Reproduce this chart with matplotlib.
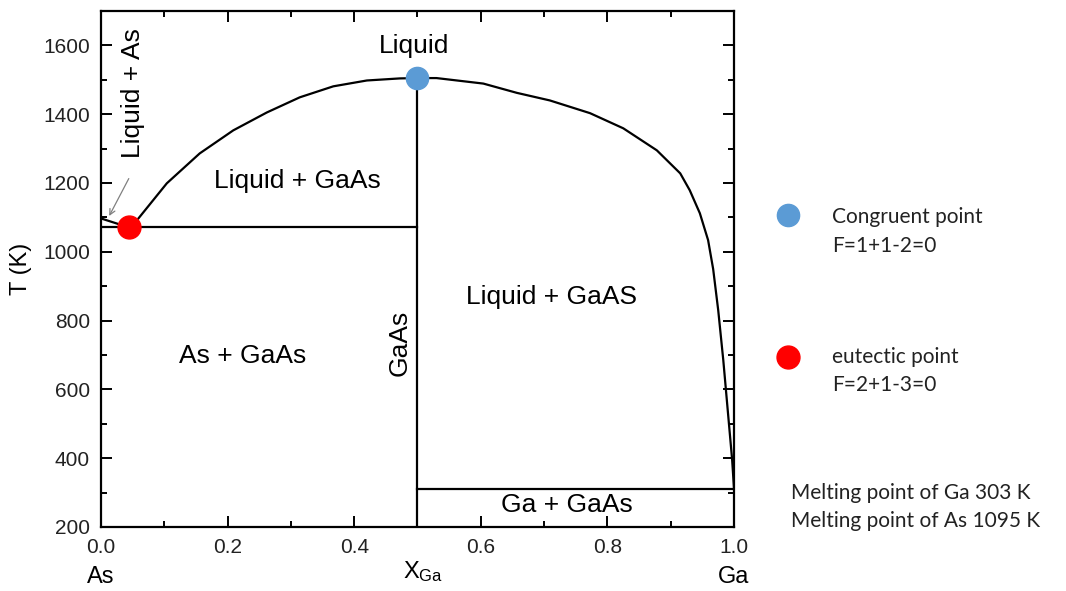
import matplotlib
matplotlib.use('Agg')
import matplotlib.pyplot as plt
from matplotlib.ticker import MultipleLocator

plt.rcParams['font.family'] = ['Liberation Sans', 'DejaVu Sans']
plt.rcParams['mathtext.fontset'] = 'custom'
plt.rcParams['mathtext.rm'] = 'Liberation Sans'
plt.rcParams['mathtext.it'] = 'Liberation Sans:italic'

# liquidus, As-rich side (eutectic -> congruent point)
liq_left_x = [0.044, 0.057, 0.104, 0.156, 0.209, 0.262, 0.314, 0.367, 0.42, 0.472, 0.50]
liq_left_t = [1071, 1092, 1199, 1286, 1353, 1405, 1449, 1481, 1498, 1504, 1505]
# liquidus, Ga-rich side (congruent point -> Ga melting)
liq_right_x = [0.50, 0.53, 0.604, 0.657, 0.709, 0.7725, 0.825, 0.878, 0.915, 0.930,
               0.946, 0.959, 0.967, 0.975, 0.983, 0.990, 0.997, 1.0]
liq_right_t = [1505, 1505, 1489, 1462, 1440, 1403, 1359, 1295, 1228, 1179,
               1112, 1034, 950, 830, 685, 540, 395, 310]
# As melting -> eutectic
as_side_x = [0.0, 0.044]
as_side_t = [1097, 1071]

eutectic = (0.044, 1071)
congruent = (0.5, 1505)
eutectic_line_x = [0.0, 0.5]
ga_line_x = [0.5, 1.0]
ga_line_t = 310
gaas_x = 0.5

fig = plt.figure(figsize=(10.66, 5.91), dpi=100)
ax = fig.add_axes([0.0947, 0.1083, 0.5939, 0.8731])

lw = 1.6
ax.plot(liq_left_x, liq_left_t, color='black', lw=lw)
ax.plot(liq_right_x, liq_right_t, color='black', lw=lw)
ax.plot(as_side_x, as_side_t, color='black', lw=lw)
ax.plot(eutectic_line_x, [eutectic[1]] * 2, color='black', lw=lw)
ax.plot(ga_line_x, [ga_line_t] * 2, color='black', lw=lw)
ax.plot([gaas_x, gaas_x], [200, congruent[1]], color='black', lw=lw)

ax.plot(*congruent, 'o', color='#5B9BD5', ms=16, zorder=5)
ax.plot(*eutectic, 'o', color='#FF0000', ms=16.5, zorder=5)

ax.set_xlim(0, 1.0)
ax.set_ylim(200, 1700)
ax.xaxis.set_major_locator(MultipleLocator(0.2))
ax.xaxis.set_minor_locator(MultipleLocator(0.1))
ax.yaxis.set_major_locator(MultipleLocator(200))
ax.yaxis.set_minor_locator(MultipleLocator(100))
ax.set_xticks([0.0, 0.2, 0.4, 0.6, 0.8, 1.0])
ax.set_xticklabels(['0.0', '0.2', '0.4', '0.6', '0.8', '1.0'])
ax.tick_params(which='both', direction='in', top=True, right=True, width=1.4)
ax.tick_params(which='major', length=8, labelsize=15, pad=8, labelcolor='#222222')
ax.tick_params(which='minor', length=4)
for sp in ax.spines.values():
    sp.set_linewidth(1.6)

ax.set_ylabel('T (K)', fontsize=17, labelpad=8)

fs = 19
ax.text(0.495, 1597, 'Liquid', fontsize=fs, ha='center', va='center')
ax.text(0.31, 1205, 'Liquid + GaAs', fontsize=fs, ha='center', va='center')
ax.text(0.224, 697, 'As + GaAs', fontsize=fs, ha='center', va='center')
ax.text(0.472, 734, 'GaAs', fontsize=fs, ha='center', va='center', rotation=90)
ax.text(0.711, 868, 'Liquid + GaAS', fontsize=fs, ha='center', va='center')
ax.text(0.736, 264, 'Ga + GaAs', fontsize=fs, ha='center', va='center')
ax.text(0.05, 1460, 'Liquid + As', fontsize=fs, ha='center', va='center', rotation=90)
ax.annotate('', xy=(0.011, 1097), xytext=(0.046, 1220),
            arrowprops=dict(arrowstyle='->', color='#808080', lw=0.9))

fig.text(101 / 1066, 1 - 577 / 591, 'As', fontsize=17, ha='center', va='center')
fig.text(734 / 1066, 1 - 577 / 591, 'Ga', fontsize=17, ha='center', va='center')
fig.text(423 / 1066, 1 - 572 / 591, r'X$_{\mathrm{Ga}}$', fontsize=17, ha='center', va='center')

# side notes
ax.plot([788 / 1066], [1 - 215 / 591], 'o', color='#5B9BD5', ms=16,
        transform=fig.transFigure, clip_on=False)
ax.plot([788 / 1066], [1 - 357 / 591], 'o', color='#FF0000', ms=16.5,
        transform=fig.transFigure, clip_on=False)
note_font = ['Lato', 'DejaVu Sans']
nfs = 15
fig.text(832 / 1066, 1 - 217 / 591, 'Congruent point', fontsize=nfs, family=note_font,
         va='center', color='#222222')
fig.text(832 / 1066, 1 - 246 / 591, 'F=1+1-2=0', fontsize=nfs, family=note_font,
         va='center', color='#222222')
fig.text(832 / 1066, 1 - 357 / 591, 'eutectic point', fontsize=nfs, family=note_font,
         va='center', color='#222222')
fig.text(832 / 1066, 1 - 385 / 591, 'F=2+1-3=0', fontsize=nfs, family=note_font,
         va='center', color='#222222')
fig.text(791 / 1066, 1 - 493 / 591, 'Melting point of Ga 303 K', fontsize=nfs,
         family=note_font, va='center', color='#222222')
fig.text(791 / 1066, 1 - 521 / 591, 'Melting point of As 1095 K', fontsize=nfs,
         family=note_font, va='center', color='#222222')

fig.savefig('out.png', dpi=100)
